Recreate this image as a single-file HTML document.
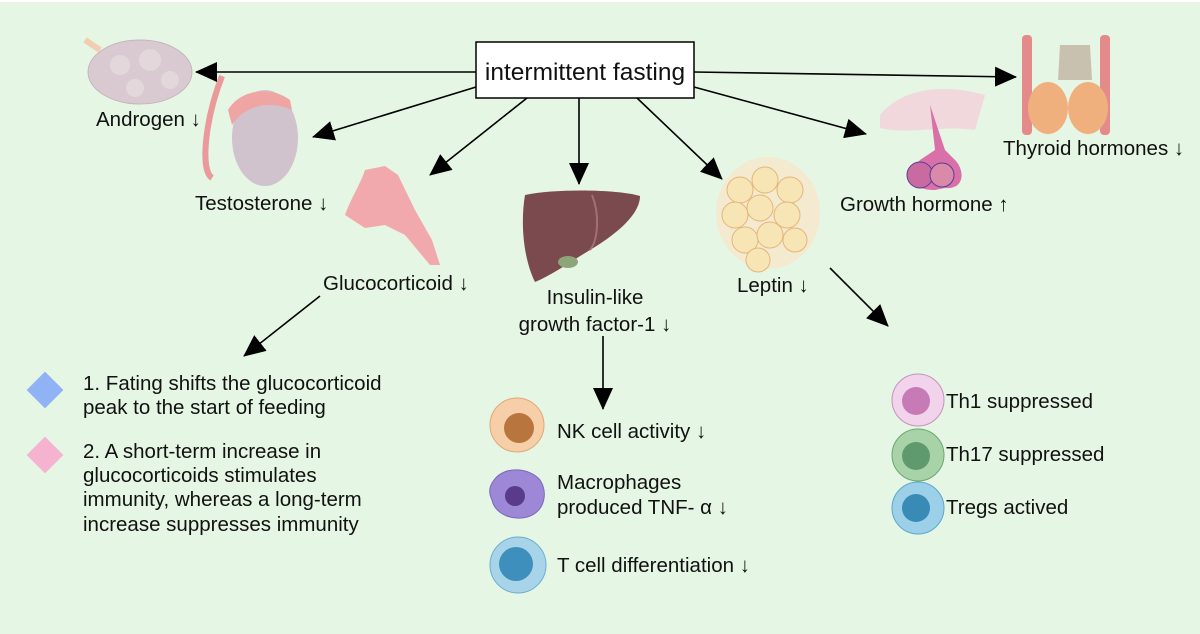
<!DOCTYPE html>
<html><head><meta charset="utf-8"><style>
html,body{margin:0;padding:0;background:#fff}
svg{display:block}
text{font-family:"Liberation Sans",sans-serif;fill:#111}
</style></head><body>
<svg width="1200" height="634" viewBox="0 0 1200 634" xmlns="http://www.w3.org/2000/svg">
<defs>
<marker id="b" markerWidth="22" markerHeight="20" refX="21" refY="10" orient="auto" markerUnits="userSpaceOnUse">
<path d="M0,0 L22,10 L0,20 z" fill="#000"/></marker>
</defs>
<rect x="0" y="0" width="1200" height="634" fill="#e6f6e4"/>
<rect x="0" y="0" width="1200" height="2" fill="#fff"/>

<!-- organs -->
<g>
<path d="M85,40 L100,50" stroke="#f0cfb0" stroke-width="6"/>
<ellipse cx="140" cy="72" rx="52" ry="32" fill="#d9c9d0" stroke="#c8b4bd"/>
<circle cx="120" cy="65" r="10" fill="#e4d7dc"/><circle cx="150" cy="60" r="11" fill="#e4d7dc"/><circle cx="170" cy="80" r="9" fill="#e4d7dc"/><circle cx="135" cy="88" r="9" fill="#e4d7dc"/>
</g>
<g>
<path d="M222,76 C205,120 200,170 212,178" stroke="#ea9a9a" stroke-width="6" fill="none"/>
<ellipse cx="265" cy="138" rx="33" ry="48" fill="#d0c3cd"/>
<path d="M228,110 C240,90 270,85 290,100 L292,110 C270,100 245,105 232,125 z" fill="#f0a5a5"/>
</g>
<g>
<path d="M365,170 L385,166 L398,175 L415,210 L432,240 L440,265 L430,265 L405,235 L385,225 L365,228 L345,215 C350,200 360,185 365,170 z" fill="#f2a9ae"/>
</g>
<g>
<path d="M525,195 C560,188 620,190 640,196 C640,215 615,235 590,250 C570,262 552,275 535,282 C524,260 520,225 525,195 z" fill="#7a4a4e"/>
<path d="M592,195 C600,215 598,240 590,250" stroke="#a07076" stroke-width="2" fill="none"/>
<ellipse cx="568" cy="262" rx="10" ry="6" fill="#8ea57a"/>
</g>
<g fill="#f8e5b5" stroke="#e3b57a" stroke-width="1">
<ellipse cx="768" cy="213" rx="52" ry="56" fill="#f3ead0" stroke="none"/>
<circle cx="740" cy="190" r="13"/><circle cx="765" cy="180" r="13"/><circle cx="790" cy="190" r="13"/><circle cx="735" cy="215" r="13"/><circle cx="760" cy="208" r="13"/><circle cx="787" cy="215" r="13"/><circle cx="745" cy="240" r="13"/><circle cx="770" cy="235" r="13"/><circle cx="795" cy="240" r="12"/><circle cx="758" cy="260" r="12"/>
</g>
<g>
<path d="M880,115 C900,90 940,82 985,95 L975,130 C940,125 910,135 880,128 z" fill="#f0d8dd"/>
<path d="M930,105 L935,150 L920,160 C905,175 910,190 935,190 L945,188 C965,190 965,170 955,160 L945,150 z" fill="#d970a8"/>
<circle cx="920" cy="175" r="13" fill="#c96aa0" stroke="#5a3a9a"/><circle cx="942" cy="175" r="12" fill="#d98aa8" stroke="#5a3a9a"/>
</g>
<g>
<rect x="1022" y="35" width="10" height="100" rx="4" fill="#e58a8a"/><rect x="1100" y="35" width="10" height="100" rx="4" fill="#e58a8a"/>
<path d="M1060,45 L1090,45 L1092,80 L1058,80 z" fill="#c9c1b0"/>
<ellipse cx="1048" cy="108" rx="20" ry="26" fill="#f0b07e"/><ellipse cx="1088" cy="108" rx="20" ry="26" fill="#f0b07e"/>
</g>

<!-- box -->
<rect x="476" y="42" width="218" height="56" fill="#fff" stroke="#000" stroke-width="1.5"/>
<text x="585" y="80" font-size="24.5" text-anchor="middle">intermittent fasting</text>

<!-- arrows -->
<g stroke="#000" stroke-width="1.6" fill="none">
<line x1="476" y1="72" x2="196" y2="72" marker-end="url(#b)"/>
<line x1="476" y1="87" x2="313" y2="137" marker-end="url(#b)"/>
<line x1="527" y1="98" x2="430" y2="175" marker-end="url(#b)"/>
<line x1="579" y1="98" x2="579" y2="184" marker-end="url(#b)"/>
<line x1="637" y1="98" x2="722" y2="179" marker-end="url(#b)"/>
<line x1="694" y1="87" x2="866" y2="134" marker-end="url(#b)"/>
<line x1="694" y1="72" x2="1016" y2="77" marker-end="url(#b)"/>
<line x1="320" y1="296" x2="244" y2="356" marker-end="url(#b)"/>
<line x1="603" y1="336" x2="603" y2="409" marker-end="url(#b)"/>
<line x1="830" y1="268" x2="888" y2="326" marker-end="url(#b)"/>
</g>

<!-- labels -->
<g font-size="20.5">
<text x="96" y="126">Androgen ↓</text>
<text x="195" y="210">Testosterone ↓</text>
<text x="323" y="290">Glucocorticoid ↓</text>
<text x="595" y="304" text-anchor="middle">Insulin-like</text>
<text x="595" y="331" text-anchor="middle">growth factor-1 ↓</text>
<text x="737" y="292">Leptin ↓</text>
<text x="840" y="211">Growth hormone ↑</text>
<text x="1003" y="155">Thyroid hormones ↓</text>

<text x="83" y="390">1. Fating shifts the glucocorticoid</text>
<text x="83" y="414">peak to the start of feeding</text>
<text x="83" y="458">2. A short-term increase in</text>
<text x="83" y="482">glucocorticoids stimulates</text>
<text x="83" y="506">immunity, whereas a long-term</text>
<text x="83" y="531">increase suppresses immunity</text>

<text x="557" y="438">NK cell activity ↓</text>
<text x="557" y="489">Macrophages</text>
<text x="557" y="514">produced TNF- α ↓</text>
<text x="557" y="572">T cell differentiation ↓</text>

<text x="946" y="408">Th1 suppressed</text>
<text x="946" y="461">Th17 suppressed</text>
<text x="946" y="514">Tregs actived</text>
</g>

<!-- diamonds -->
<rect x="32" y="377" width="26" height="26" fill="#8fb3f5" transform="rotate(45 45 390)"/>
<rect x="32" y="442" width="26" height="26" fill="#f5b3d0" transform="rotate(45 45 455)"/>

<!-- cells -->
<circle cx="517" cy="425" r="27" fill="#f6cfa8" stroke="#e0a878"/><circle cx="519" cy="428" r="15" fill="#b8763e"/>
<path d="M494,480 C505,465 530,468 540,480 C548,492 545,510 530,516 C515,522 495,515 492,500 C488,492 490,485 494,480 z" fill="#9c88d6" stroke="#7c66c0"/><circle cx="515" cy="496" r="10" fill="#5a3a8a"/>
<circle cx="518" cy="565" r="28" fill="#a8d4ea" stroke="#6aaed0"/><circle cx="516" cy="564" r="17" fill="#3e8fbc"/>

<circle cx="918" cy="400" r="26" fill="#f1d3ec" stroke="#c890c0"/><circle cx="916" cy="401" r="14" fill="#c67ab6"/>
<circle cx="918" cy="455" r="26" fill="#a8d3a8" stroke="#6aa86a"/><circle cx="916" cy="456" r="14" fill="#5e9a6e"/>
<circle cx="918" cy="508" r="26" fill="#9ccfe8" stroke="#5aa8d0"/><circle cx="916" cy="508" r="14" fill="#3a8ab6"/>
</svg>
</body></html>
